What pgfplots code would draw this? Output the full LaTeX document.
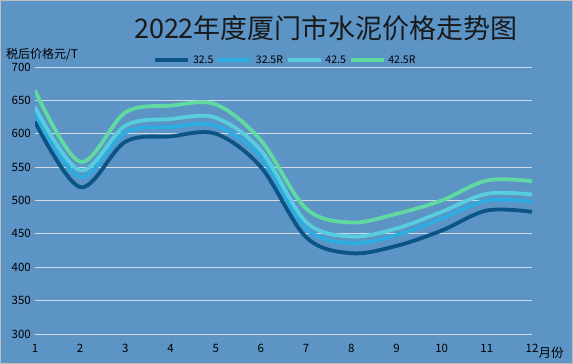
\documentclass[border=0pt]{standalone}
\usepackage{pgfplots}
\pgfplotsset{compat=1.18}
\usepackage{fontspec}
\setmainfont{Noto Sans CJK SC}
\definecolor{bg}{RGB}{92,148,197}
\definecolor{cA}{RGB}{10,84,134}
\definecolor{cB}{RGB}{45,172,225}
\definecolor{cC}{RGB}{88,205,222}
\definecolor{cD}{RGB}{96,218,160}
\definecolor{gridc}{RGB}{210,218,228}
\begin{document}
\begin{tikzpicture}[x=1pt,y=1pt]
\fill[bg] (0,0) rectangle (573,364);
\draw[gray!50,line width=1pt] (0.5,0.5) rectangle (572.5,363.5);
\node[font=\fontsize{27}{30}\selectfont,anchor=center,text=black!90] at (326,336) {2022年度厦门市水泥价格走势图};
\node[font=\fontsize{12}{14}\selectfont,anchor=west,text=black,inner sep=1pt] at (5,309) {税后价格元/T};
\node[font=\fontsize{12.5}{14}\selectfont,anchor=west,text=black] at (535,11) {月份};
\begin{axis}[
  at={(35pt,30pt)}, anchor=south west,
  scale only axis, width=497pt, height=267pt,
  xmin=1, xmax=12, ymin=300, ymax=700,
  xtick={1,...,12}, ytick={300,350,...,700},
  axis line style={draw=none},
  major tick length=0pt,
  ymajorgrids, grid style={gridc, line width=0.8pt},
  tick label style={font=\fontsize{11.5}{13}\selectfont, text=black},
  /pgf/number format/assume math mode=true,
  yticklabel style={xshift=-3pt, inner sep=1pt},
  xticklabel style={yshift=-7pt},
  legend columns=4,
  legend style={at={(0.503,1.0)}, anchor=south, draw=none, fill=none,
    font=\fontsize{10.5}{12}\selectfont, column sep=2pt, inner sep=0pt, yshift=1pt,
    nodes={inner sep=1pt}},
  legend image code/.code={\draw[#1,line width=3.5pt] (0pt,0pt) -- (33pt,0pt);},
  every axis plot/.append style={line width=3.8pt, smooth, tension=0.55, no markers},
]
\addplot[cA] coordinates {(1,618) (2,520) (3,588) (4,596) (5,600) (6,550) (7,445) (8,421) (9,432) (10,455) (11,485) (12,483)};
\addlegendentry{32.5}
\addplot[cB] coordinates {(1,630) (2,535) (3,602) (4,610) (5,612) (6,565) (7,458) (8,436) (9,448) (10,473) (11,500) (12,498)};
\addlegendentry{32.5R}
\addplot[cC] coordinates {(1,640) (2,545) (3,612) (4,622) (5,624) (6,575) (7,468) (8,446) (9,458) (10,483) (11,510) (12,509)};
\addlegendentry{42.5}
\addplot[cD] coordinates {(1,665) (2,558) (3,632) (4,642) (5,644) (6,590) (7,488) (8,467) (9,480) (10,500) (11,530) (12,529)};
\addlegendentry{42.5R}
\end{axis}
\end{tikzpicture}
\end{document}
